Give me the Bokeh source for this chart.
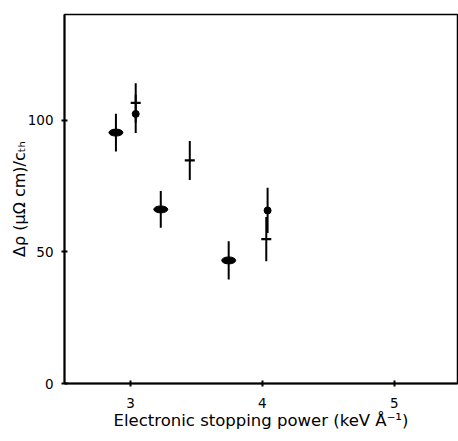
from bokeh.plotting import figure
from bokeh.models import ColumnDataSource, FixedTicker, Range1d
from bokeh.embed import file_html
from bokeh.resources import INLINE

# Series 1: filled lens-shaped markers
lens_x = [2.89, 3.23, 3.745]
lens_y = [95.4, 66.2, 46.8]
lens_err = [7.2, 7.0, 7.3]

# Series 2: cross (plus) markers
cross_x = [3.04, 3.45, 4.03]
cross_y = [106.7, 84.8, 54.9]
cross_err = [7.5, 7.4, 8.4]

# Series 3: filled dots
dot_x = [3.04, 4.04]
dot_y = [102.5, 65.8]
dot_err = [7.3, 8.6]

x_ticks = [3, 4, 5]
y_ticks = [0, 50, 100]

FONT = "DejaVu Sans"


def src(x, y, e):
    return ColumnDataSource(dict(
        x=x, y=y,
        lo=[a - b for a, b in zip(y, e)],
        hi=[a + b for a, b in zip(y, e)],
    ))


p = figure(width=458, height=441, output_backend="svg", toolbar_location=None,
           x_range=Range1d(2.5, 5.48), y_range=Range1d(0, 140.3),
           min_border_left=64, min_border_right=1, min_border_top=14, min_border_bottom=58)

p.background_fill_color = "white"
p.border_fill_color = "white"
p.outline_line_color = "black"
p.outline_line_width = 1.5
p.grid.visible = False

s1 = src(lens_x, lens_y, lens_err)
s2 = src(cross_x, cross_y, cross_err)
s3 = src(dot_x, dot_y, dot_err)

for s in (s1, s2, s3):
    p.segment(x0="x", y0="lo", x1="x", y1="hi", source=s, line_color="black", line_width=2)

p.ellipse(x="x", y="y", width=14, height=7, width_units="screen", height_units="screen",
          source=s1, fill_color="black", line_color="black")
p.scatter(x="x", y="y", source=s2, marker="dash", size=10, line_color="black", line_width=2.2)
p.scatter(x="x", y="y", source=s3, marker="circle", size=7, fill_color="black", line_color="black")

p.xaxis.ticker = FixedTicker(ticks=x_ticks)
p.yaxis.ticker = FixedTicker(ticks=y_ticks)
for ax in (p.xaxis[0], p.yaxis[0]):
    ax.axis_line_width = 2
    ax.axis_line_color = "black"
    ax.major_tick_in = 3
    ax.major_tick_out = 3
    ax.major_tick_line_width = 2
    ax.minor_tick_line_color = None
    ax.major_label_text_font = FONT
    ax.major_label_text_font_size = "13.5px"
    ax.major_label_text_color = "black"
    ax.axis_label_text_font = FONT
    ax.axis_label_text_font_size = "16px"
    ax.axis_label_text_font_style = "normal"
    ax.axis_label_text_color = "black"

p.xaxis.axis_label = "Electronic stopping power (keV Å⁻¹)"
p.xaxis.axis_label_text_font_size = "16.5px"
p.xaxis.major_label_standoff = 11
p.xaxis.axis_label_standoff = 0
p.yaxis.axis_label = "Δρ (μΩ cm)/cₜₕ"
p.yaxis.major_label_standoff = 8
p.yaxis.axis_label_standoff = -4

open("out.html", "w").write(file_html(p, INLINE))
